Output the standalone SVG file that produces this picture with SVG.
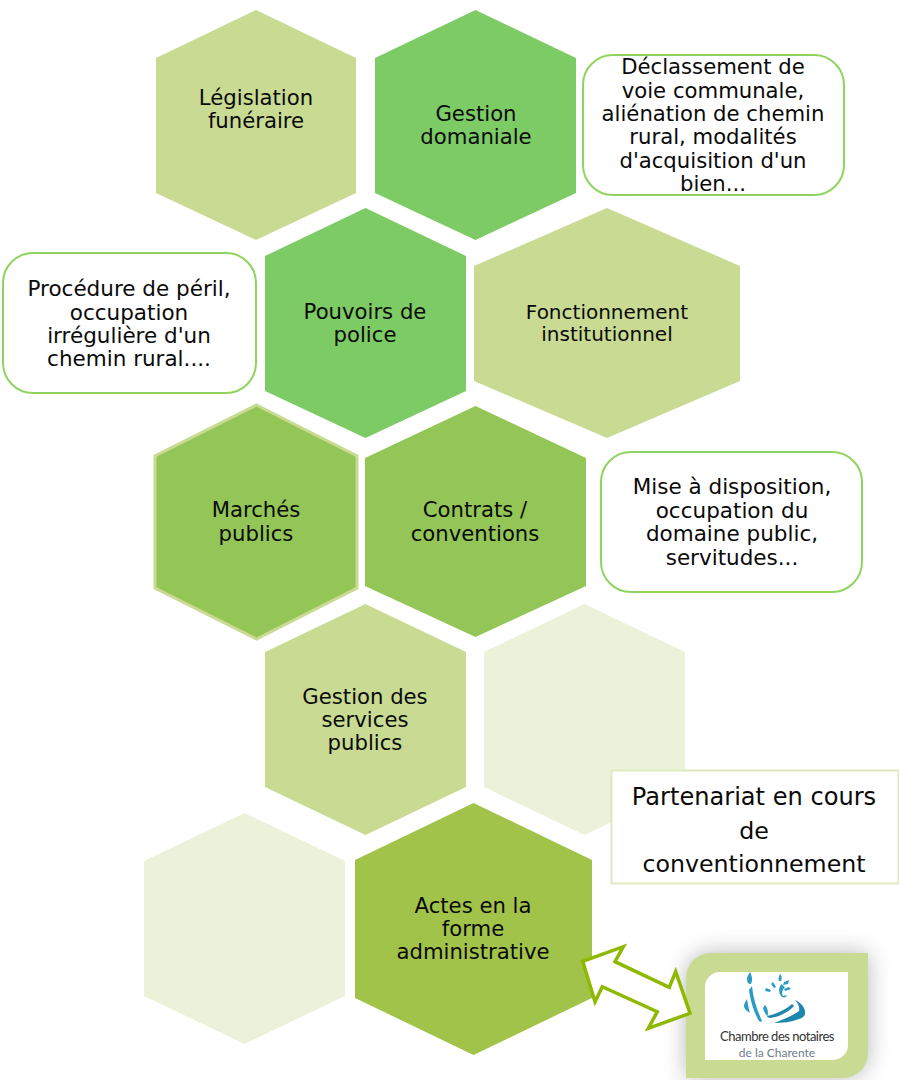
<svg xmlns="http://www.w3.org/2000/svg" width="899" height="1080" viewBox="0 0 899 1080">
<defs>
<style>
text{font-family:"DejaVu Sans",Verdana,sans-serif;font-size:21.200px;fill:#0a0a0a;text-anchor:middle}
.big{font-size:23.700px}
.wide{font-size:24.100px}
.small{font-size:20px}
.n{font-size:21.500px}
.light{fill:#c9da92}
.green{fill:#7ccb64}
.mid{fill:#93c656}
.pale{fill:#ecf2da}
.olive{fill:#a2c349}
.note{fill:#fff;stroke:#8fd45f;stroke-width:2}
.logo{font-family:"Lato","Liberation Sans",sans-serif}
.blue{fill:#2a9cc4}
.dark{fill:#1d86ad}
</style>
<filter id="shadow" x="-30%" y="-30%" width="160%" height="160%"><feGaussianBlur stdDeviation="11"/></filter>
</defs>
<g id="n-legislation"><polygon class="light" points="256,10 356,58 356,193 256,240 156,193 156,58"/><text x="256" y="105">Législation</text><text x="256" y="128">funéraire</text></g>
<g id="n-domaniale"><polygon class="green" points="475.500,10 576,58 576,193 475.500,240 375,193 375,58"/><text x="476" y="121">Gestion</text><text x="476" y="144">domaniale</text></g>
<g id="n-note1"><rect class="note" x="583" y="55" width="261" height="140" rx="30"/><text x="713" y="74">Déclassement de</text><text x="713" y="98">voie communale,</text><text x="713" y="121">aliénation de chemin</text><text x="713" y="144">rural, modalités</text><text x="713" y="168">d'acquisition d'un</text><text x="713" y="191">bien...</text></g>
<g id="n-note2"><rect class="note" x="3" y="253" width="253" height="140" rx="30"/><text class="n" x="129" y="296">Procédure de péril,</text><text class="n" x="129" y="320">occupation</text><text class="n" x="129" y="343">irrégulière d'un</text><text class="n" x="129" y="366">chemin rural....</text></g>
<g id="n-police"><polygon class="green" points="365.500,208 466,256 466,391 365.500,438 265,391 265,256"/><text x="365" y="319">Pouvoirs de</text><text x="365" y="342">police</text></g>
<g id="n-fonctionnement"><polygon class="light" points="607,208 740,266 740,381 607,438 474,381 474,266"/><text class="small" x="607" y="319">Fonctionnement</text><text class="small" x="607" y="341">institutionnel</text></g>
<g id="n-marches"><polygon class="mid" stroke="#c9da92" stroke-width="3" points="256.500,405 357,456 357,588 256.500,639 155,588 155,456"/><text x="256" y="517">Marchés</text><text x="256" y="541">publics</text></g>
<g id="n-contrats"><polygon class="mid" points="475.500,406 586,458 586,586 475.500,637 365,586 365,458"/><text x="475" y="517">Contrats /</text><text x="475" y="541">conventions</text></g>
<g id="n-note3"><rect class="note" x="601" y="452" width="261" height="140" rx="30"/><text class="n" x="732" y="494">Mise à disposition,</text><text class="n" x="732" y="518">occupation du</text><text class="n" x="732" y="541">domaine public,</text><text class="n" x="732" y="565">servitudes...</text></g>
<g id="n-services"><polygon class="light" points="365.500,604 466,652 466,787 365.500,835 265,787 265,652"/><text x="365" y="704">Gestion des</text><text x="365" y="727">services</text><text x="365" y="750">publics</text></g>
<g id="n-pale1"><polygon class="pale" points="584.500,604 685,652 685,787 584.500,835 484,787 484,652"/></g>
<g id="n-pale2"><polygon class="pale" points="244.500,813 345,861 345,996 244.500,1044 144,996 144,861"/></g>
<g id="n-actes"><polygon class="olive" points="473.500,803 592,860 592,998 473.500,1055 355,998 355,860"/><text x="473" y="913">Actes en la</text><text x="473" y="936">forme</text><text x="473" y="959">administrative</text></g>
<g id="n-partenariat"><rect x="611.500" y="770.500" width="287" height="113" fill="#fff" stroke="#dfe9c0" stroke-width="2"/><text class="wide" x="754" y="805">Partenariat en cours</text><text class="big" x="754" y="839">de</text><text class="big" x="754" y="872">conventionnement</text></g>
<g id="n-logo">
<path d="M710,953H868V1053a25,25 0 0 1-25,25H686V978a25,25 0 0 1 24-25Z" fill="#555" opacity=".42" filter="url(#shadow)"/>
<path class="light" d="M711,953H868V1053a25,25 0 0 1-25,25H686V978a25,25 0 0 1 25-25Z"/>
<path fill="#fff" d="M720,972H848V1045a15,15 0 0 1-15,15H705V987a15,15 0 0 1 15-15Z"/>
<path class="blue" d="M750,972c2,4 3,8 1,12c-3,0 -4,-2 -4,-5c0,-3 2,-5 3,-7ZM752,986c1,12 5,24 10,35c-1,1 -2,1 -3,0c-5,-8 -9,-22 -10,-31ZM747,999c1,6 2,11 3,14c-3,-2 -6,-4 -6,-7c0,-3 2,-5 3,-7ZM765,1005c3,3 3,7 3,11c-2,-1 -3,-3 -4,-5l-1,-3ZM766,988l5,2l-1,2l-5,-1ZM773,982l3,5l-2,1l-3,-4ZM780,974c2,2 2,4 1,7l-2,0c-1,-2 0,-5 1,-7ZM789,980l-1,4l-5,1l1,-3ZM791,989l-6,2l-1,-2l5,-2ZM781,984c-2,4 -3,8 0,12c2,2 5,2 6,-1l-4,1c-2,-3 0,-7 2,-9Z"/>
<path class="dark" d="M795,1000c7,3 11,9 10,14c-1,3 -3,4 -6,5c-8,3 -17,4 -25,4c8,-3 18,-7 25,-12c1,-4 -1,-8 -4,-11ZM794,1006c-6,6 -13,10 -23,12c-2,0 -4,-1 -4,-2c9,-2 18,-6 25,-12Z"/>
<text class="logo" x="777" y="1041" style="font-size:13px;fill:#333;letter-spacing:-.5px">Chambre des notaires</text>
<text class="logo" x="777" y="1057" style="font-size:12px;fill:#6e7c8c">de la Charente</text>
</g>
<g id="connectors"><polygon fill="#fff" stroke="#8fb800" stroke-width="3.500" points="582.700,961.300 623.300,946.700 615,961.700 669.300,987.300 675.700,971.700 690,1013.300 648.300,1028.300 657.300,1011.700 602.300,986.700 595,1001.700"/></g>
</svg>
